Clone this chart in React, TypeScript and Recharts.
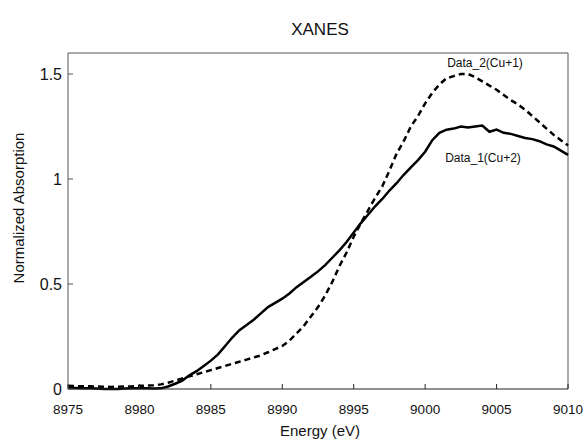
import React from 'react';
import { LineChart, Line, XAxis, YAxis, ReferenceLine } from 'recharts';

// energy grid (eV), 0.5 eV step
const energies: number[] = [
  8975, 8975.5, 8976, 8976.5, 8977, 8977.5, 8978, 8978.5, 8979, 8979.5,
  8980, 8980.5, 8981, 8981.5, 8982, 8982.5, 8983, 8983.5, 8984, 8984.5,
  8985, 8985.5, 8986, 8986.5, 8987, 8987.5, 8988, 8988.5, 8989, 8989.5,
  8990, 8990.5, 8991, 8991.5, 8992, 8992.5, 8993, 8993.5, 8994, 8994.5,
  8995, 8995.5, 8996, 8996.5, 8997, 8997.5, 8998, 8998.5, 8999, 8999.5,
  9000, 9000.5, 9001, 9001.5, 9002, 9002.5, 9003, 9003.5, 9004, 9004.5,
  9005, 9005.5, 9006, 9006.5, 9007, 9007.5, 9008, 9008.5, 9009, 9009.5,
  9010,
];

// Data_1 (Cu+2) - solid
const data1: number[] = [
  0.005, 0.005, 0.004, 0.003, 0.002, 0.0, 0.0, 0.0, 0.002, 0.003,
  0.004, 0.003, 0.002, 0.003, 0.012, 0.025, 0.04, 0.065, 0.085, 0.11,
  0.135, 0.165, 0.205, 0.245, 0.28, 0.305, 0.33, 0.36, 0.39, 0.41,
  0.43, 0.455, 0.485, 0.51, 0.535, 0.56, 0.59, 0.625, 0.66, 0.7,
  0.745, 0.79, 0.83, 0.87, 0.905, 0.945, 0.98, 1.02, 1.055, 1.09,
  1.13, 1.185, 1.22, 1.235, 1.24, 1.25, 1.245, 1.25, 1.255, 1.225,
  1.235, 1.22, 1.215, 1.205, 1.195, 1.19, 1.18, 1.165, 1.155, 1.135,
  1.115,
];

// Data_2 (Cu+1) - dashed
const data2: number[] = [
  0.015, 0.014, 0.013, 0.013, 0.012, 0.011, 0.01, 0.011, 0.012, 0.013,
  0.015, 0.016, 0.018, 0.022, 0.03, 0.04, 0.05, 0.06, 0.07, 0.08,
  0.09, 0.1, 0.11, 0.12, 0.13, 0.14, 0.15, 0.16, 0.175, 0.19,
  0.205, 0.23, 0.265, 0.3, 0.345, 0.39, 0.445, 0.51, 0.585, 0.65,
  0.725, 0.79, 0.85, 0.91, 0.965, 1.04, 1.12, 1.18, 1.25, 1.3,
  1.36, 1.41, 1.45, 1.48, 1.49, 1.5, 1.5, 1.485, 1.465, 1.445,
  1.425, 1.4, 1.375, 1.355, 1.33, 1.3, 1.27, 1.24, 1.21, 1.185,
  1.16,
];

const xTicks = [8975, 8980, 8985, 8990, 8995, 9000, 9005, 9010];
const yTicks = [0, 0.5, 1, 1.5];

const chartData = energies.map((e, i) => ({ energy: e, d1: data1[i], d2: data2[i] }));

const FONT = '"Liberation Sans", Arial, sans-serif';

export default function App() {
  return (
    <div style={{ width: 585, height: 441, background: '#fff', fontFamily: FONT }}>
      <style>{`body{margin:0}`}</style>
      <LineChart
        width={585}
        height={441}
        data={chartData}
        margin={{ top: 53, right: 17, left: 0, bottom: 0 }}
      >
        <XAxis
          dataKey="energy"
          type="number"
          domain={[8975, 9010]}
          ticks={xTicks}
          height={52}
          tickSize={-5}
          tickMargin={20}
          stroke="#222"
          tick={{ fill: '#111', fontSize: 13.5, fontFamily: FONT }}
        />
        <YAxis
          type="number"
          domain={[0, 1.6]}
          ticks={yTicks}
          width={68}
          tickSize={-5}
          tickMargin={11}
          stroke="#555"
          tick={{ fill: '#111', fontSize: 16, fontFamily: FONT }}
        />
        {/* box frame top / right */}
        <ReferenceLine y={1.6} stroke="#555" strokeWidth={1} />
        <ReferenceLine x={9010} stroke="#555" strokeWidth={1} />

        <Line
          type="linear"
          dataKey="d2"
          stroke="#000"
          strokeWidth={2.5}
          strokeDasharray="6 4"
          dot={false}
          isAnimationActive={false}
        />
        <Line
          type="linear"
          dataKey="d1"
          stroke="#000"
          strokeWidth={2.5}
          dot={false}
          isAnimationActive={false}
        />

        <text x={320} y={35} textAnchor="middle" fontSize={17} fontFamily={FONT} fill="#111">
          XANES
        </text>
        <text x={320} y={436} textAnchor="middle" fontSize={15} fontFamily={FONT} fill="#111">
          Energy (eV)
        </text>
        <text
          x={24}
          y={208}
          textAnchor="middle"
          fontSize={15}
          fontFamily={FONT}
          fill="#111"
          transform="rotate(-90 24 208)"
        >
          Normalized Absorption
        </text>
        <text x={485} y={67} textAnchor="middle" fontSize={12} fontFamily={FONT} fill="#111">
          Data_2(Cu+1)
        </text>
        <text x={483} y={162} textAnchor="middle" fontSize={12} fontFamily={FONT} fill="#111">
          Data_1(Cu+2)
        </text>
      </LineChart>
    </div>
  );
}
